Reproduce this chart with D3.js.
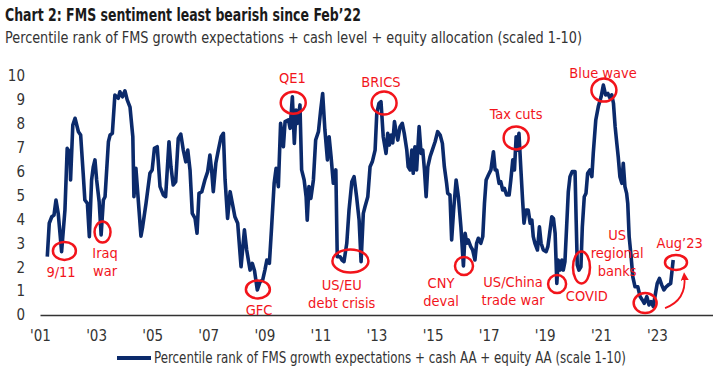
<!DOCTYPE html>
<html>
<head>
<meta charset="utf-8">
<script src="https://d3js.org/d3.v7.min.js"></script>
<style>
  body { margin: 0; background: #fff; }
  svg text { font-family: "Liberation Sans Narrow", "Arial Narrow", "DejaVu Sans Condensed", sans-serif; }
</style>
</head>
<body>
<svg width="713" height="380" id="mainSvg"></svg>
<script>
// ---- data ----
const dates = [
  2001.26, 2001.33, 2001.42, 2001.50, 2001.57, 2001.65, 2001.77, 2001.89, 2001.97, 2002.07,
  2002.09, 2002.17, 2002.25, 2002.37, 2002.45, 2002.54, 2002.60, 2002.69, 2002.76, 2002.84,
  2002.90, 2002.96, 2003.02, 2003.11, 2003.18, 2003.26, 2003.32, 2003.44, 2003.50, 2003.58,
  2003.67, 2003.79, 2003.85, 2003.94, 2004.03, 2004.11, 2004.21, 2004.31, 2004.35, 2004.42,
  2004.60, 2004.66, 2004.78, 2004.92, 2005.00, 2005.08, 2005.18, 2005.28, 2005.40, 2005.48,
  2005.60, 2005.67, 2005.75, 2005.84, 2005.93, 2006.02, 2006.11, 2006.20, 2006.27, 2006.35,
  2006.43, 2006.53, 2006.60, 2006.67, 2006.77, 2006.88, 2006.98, 2007.06, 2007.12, 2007.18,
  2007.27, 2007.36, 2007.46, 2007.54, 2007.60, 2007.69, 2007.78, 2007.86, 2007.95, 2008.05,
  2008.17, 2008.29, 2008.37, 2008.49, 2008.57, 2008.65, 2008.75, 2008.85, 2008.94, 2009.02,
  2009.09, 2009.18, 2009.26, 2009.35, 2009.42, 2009.50, 2009.58, 2009.68, 2009.74, 2009.86,
  2009.92, 2010.00, 2010.07, 2010.13, 2010.19, 2010.27, 2010.33, 2010.42, 2010.49, 2010.53,
  2010.59, 2010.66, 2010.75, 2010.83, 2010.93, 2011.01, 2011.08, 2011.16, 2011.25, 2011.31,
  2011.38, 2011.46, 2011.55, 2011.60, 2011.70, 2011.77, 2011.84, 2011.94, 2012.02, 2012.12,
  2012.20, 2012.29, 2012.38, 2012.45, 2012.53, 2012.59, 2012.69, 2012.77, 2012.85, 2012.95,
  2013.01, 2013.09, 2013.16, 2013.24, 2013.34, 2013.40, 2013.46, 2013.52, 2013.58, 2013.64,
  2013.70, 2013.76, 2013.84, 2013.92, 2013.99, 2014.08, 2014.13, 2014.20, 2014.26, 2014.31,
  2014.37, 2014.43, 2014.52, 2014.59, 2014.65, 2014.71, 2014.77, 2014.83, 2014.91, 2014.99,
  2015.09, 2015.18, 2015.27, 2015.35, 2015.42, 2015.50, 2015.54, 2015.62, 2015.68, 2015.75,
  2015.84, 2015.92, 2016.01, 2016.10, 2016.16, 2016.22, 2016.27, 2016.36, 2016.43, 2016.51,
  2016.57, 2016.63, 2016.72, 2016.79, 2016.85, 2016.91, 2016.99, 2017.08, 2017.17, 2017.23,
  2017.29, 2017.37, 2017.43, 2017.50, 2017.56, 2017.64, 2017.73, 2017.79, 2017.86, 2017.92,
  2017.98, 2018.02, 2018.08, 2018.15, 2018.21, 2018.26, 2018.33, 2018.41, 2018.48, 2018.54,
  2018.59, 2018.65, 2018.74, 2018.81, 2018.87, 2018.95, 2019.05, 2019.11, 2019.16, 2019.25,
  2019.31, 2019.37, 2019.43, 2019.48, 2019.55, 2019.61, 2019.66, 2019.72, 2019.78, 2019.84,
  2019.90, 2019.98, 2020.08, 2020.12, 2020.16, 2020.22, 2020.29, 2020.34, 2020.41, 2020.47,
  2020.53, 2020.61, 2020.68, 2020.73, 2020.82, 2020.91, 2021.01, 2021.09, 2021.17, 2021.25,
  2021.33, 2021.39, 2021.45, 2021.51, 2021.57, 2021.62, 2021.68, 2021.75, 2021.80, 2021.86,
  2021.92, 2021.96, 2022.01, 2022.08, 2022.14, 2022.22, 2022.32, 2022.40, 2022.48, 2022.55,
  2022.64, 2022.72, 2022.79, 2022.87, 2022.93, 2023.01, 2023.09, 2023.17, 2023.25, 2023.33,
  2023.41, 2023.49, 2023.58
];
const values = [
  2.44, 3.84, 4.11, 4.18, 4.81, 4.25, 2.65, 4.40, 6.97, 6.80,
  5.65, 7.95, 8.23, 7.67, 7.53, 5.93, 4.81, 4.67, 3.28, 5.65,
  6.20, 6.49, 5.65, 4.74, 3.35, 4.81, 4.95, 7.25, 7.53, 7.60,
  9.20, 9.07, 9.34, 9.13, 9.38, 9.00, 8.70, 7.46, 4.95, 6.14,
  3.30, 3.69, 4.67, 5.93, 6.07, 6.97, 7.04, 5.37, 5.02, 4.95,
  7.25, 6.20, 5.44, 5.58, 7.39, 7.57, 6.90, 6.41, 6.90, 6.07,
  4.25, 4.04, 3.42, 5.09, 5.16, 5.65, 6.00, 6.69, 6.07, 5.16,
  6.35, 6.90, 7.46, 7.60, 5.65, 4.04, 5.16, 4.67, 4.11, 3.84,
  2.02, 3.56, 2.72, 1.88, 2.16, 1.85, 1.05, 1.39, 1.46, 1.88,
  2.30, 2.16, 3.69, 5.51, 6.14, 5.37, 8.02, 7.04, 8.09, 8.16,
  7.81, 9.13, 7.18, 8.58, 8.02, 8.79, 6.07, 5.65, 4.95, 3.97,
  5.37, 4.88, 5.65, 7.32, 7.67, 8.58, 9.27, 7.74, 6.49, 7.46,
  6.62, 5.51, 6.07, 2.44, 2.44, 2.30, 2.23, 3.00, 4.39, 5.58,
  5.79, 4.95, 3.97, 2.23, 4.25, 4.53, 4.95, 6.20, 6.41, 6.90,
  8.44, 8.86, 8.93, 7.46, 6.76, 7.60, 7.11, 7.53, 7.20, 8.09,
  7.67, 7.32, 7.88, 8.02, 7.60, 6.90, 6.20, 6.07, 6.90, 5.93,
  7.04, 6.07, 7.88, 6.76, 6.90, 6.07, 4.95, 6.20, 6.62, 6.90,
  7.25, 7.67, 7.53, 7.18, 6.20, 5.51, 5.09, 5.02, 3.14, 4.39,
  5.65, 4.95, 3.69, 2.05, 3.42, 3.00, 3.14, 2.86, 2.72, 2.30,
  3.00, 3.21, 3.00, 3.28, 4.67, 5.65, 5.86, 6.07, 6.83, 6.07,
  6.07, 5.51, 5.58, 5.23, 5.30, 5.02, 5.02, 5.65, 6.49, 6.07,
  7.46, 6.90, 7.60, 6.07, 4.81, 3.84, 4.39, 4.39, 3.84, 3.97,
  3.28, 3.00, 2.72, 3.69, 3.00, 2.72, 2.65, 2.86, 3.28, 4.11,
  4.04, 3.42, 1.32, 2.30, 1.88, 2.30, 1.88, 2.23, 3.69, 5.16,
  5.79, 6.00, 6.00, 3.97, 2.09, 1.88, 2.02, 3.69, 4.95, 5.09,
  5.93, 6.07, 5.79, 6.76, 8.16, 8.72, 9.13, 9.62, 9.21, 9.27,
  9.07, 9.21, 8.86, 7.88, 7.18, 6.62, 5.79, 5.51, 6.35, 5.37,
  5.09, 4.67, 3.28, 2.44, 1.60, 1.18, 1.18, 0.77, 0.63, 0.49,
  0.77, 0.42, 0.56, 0.35, 0.77, 1.32, 1.53, 1.26, 1.05, 1.18,
  1.26, 1.32, 2.30
];
const xTicks = [2001, 2003, 2005, 2007, 2009, 2011, 2013, 2015, 2017, 2019, 2021, 2023];
const yTicks = [0, 1, 2, 3, 4, 5, 6, 7, 8, 9, 10];

const title = "Chart 2: FMS sentiment least bearish since Feb\u201922";
const subtitle = "Percentile rank of FMS growth expectations + cash level + equity allocation (scaled 1-10)";
const seriesName = "Percentile rank of FMS growth expectations + cash AA + equity AA (scale 1-10)";

// event rings (data coords) and their labels
const rings = [
  { year: 2001.87, value: 2.68, rx: 11.5, ry: 9 },
  { year: 2003.23, value: 3.47, rx: 8, ry: 10.5 },
  { year: 2008.77, value: 1.07, rx: 12, ry: 9 },
  { year: 2010.03, value: 8.88, rx: 12.5, ry: 11 },
  { year: 2012.07, value: 2.26, rx: 18, ry: 11.5 },
  { year: 2013.27, value: 8.87, rx: 12.5, ry: 11.5 },
  { year: 2016.12, value: 2.05, rx: 9, ry: 9 },
  { year: 2017.98, value: 7.41, rx: 12.5, ry: 11.5 },
  { year: 2019.44, value: 1.30, rx: 9, ry: 9 },
  { year: 2020.31, value: 1.99, rx: 8.5, ry: 16 },
  { year: 2021.11, value: 9.41, rx: 12.5, ry: 11.5 },
  { year: 2022.58, value: 0.50, rx: 11.5, ry: 10 },
  { year: 2023.68, value: 2.20, rx: 11, ry: 7.5 }
];
const labels = [
  { lines: ["9/11"], year: 2001.75, value: 1.59 },
  { lines: ["Iraq", "war"], year: 2003.32, value: 2.38 },
  { lines: ["GFC"], year: 2008.81, value: 0.0 },
  { lines: ["QE1"], year: 2010.0, value: 9.71 },
  { lines: ["US/EU", "debt crisis"], year: 2011.76, value: 1.05 },
  { lines: ["BRICS"], year: 2013.16, value: 9.54 },
  { lines: ["CNY", "deval"], year: 2015.3, value: 1.13 },
  { lines: ["Tax cuts"], year: 2017.98, value: 8.2 },
  { lines: ["US/China", "trade war"], year: 2017.87, value: 1.17 },
  { lines: ["COVID"], year: 2020.5, value: 0.59 },
  { lines: ["Blue wave"], year: 2021.08, value: 9.92 },
  { lines: ["US", "regional", "banks"], year: 2021.58, value: 3.14 },
  { lines: ["Aug\u201923"], year: 2023.81, value: 2.8 }
];
// curved arrow from the 2022 low to Aug'23
const arrowPts = [[2023.29, 0.29], [2024.06, 0.62], [2023.98, 1.62]];

// ---- layout ----
const svg = d3.select("#mainSvg");
const navy = "#0b2a6b";
const red = "#f2141b";

const x = d3.scaleLinear().domain([2001, 2025]).range([40, 713]);
const y = d3.scaleLinear().domain([0, 10]).range([315, 76]);

svg.append("text")
  .attr("x", 5).attr("y", 21)
  .attr("font-size", 18).attr("font-weight", "bold").attr("fill", "#1a1a1a")
  .attr("textLength", 356).attr("lengthAdjust", "spacingAndGlyphs")
  .text(title);

svg.append("text")
  .attr("x", 5).attr("y", 43)
  .attr("font-size", 16).attr("fill", "#333")
  .attr("textLength", 577).attr("lengthAdjust", "spacingAndGlyphs")
  .text(subtitle);

// axes
const yAxis = svg.append("g")
  .attr("transform", "translate(25,0)")
  .call(d3.axisLeft(y).tickValues(yTicks).tickSize(0).tickPadding(0));
yAxis.select(".domain").remove();
yAxis.selectAll("text").attr("font-size", 15).attr("fill", "#333")
  .style("font-family", null);

const xAxis = svg.append("g")
  .attr("transform", "translate(0,315)")
  .call(d3.axisBottom(x).tickValues(xTicks).tickSize(0).tickPadding(15)
    .tickFormat(d => "'" + String(d).slice(2)));
xAxis.select(".domain").attr("stroke", "#333").attr("stroke-width", 1.5);
xAxis.selectAll("text").attr("font-size", 15).attr("fill", "#333")
  .style("font-family", null);

// series line
const series = dates.map((d, i) => ({ year: d, value: values[i] }));
const line = d3.line().x(d => x(d.year)).y(d => y(d.value));
svg.append("path")
  .datum(series)
  .attr("d", line)
  .attr("fill", "none")
  .attr("stroke", navy)
  .attr("stroke-width", 3.6)
  .attr("stroke-linejoin", "round");

// annotations
const ann = svg.append("g");
ann.selectAll("ellipse")
  .data(rings).join("ellipse")
  .attr("cx", d => x(d.year)).attr("cy", d => y(d.value))
  .attr("rx", d => d.rx).attr("ry", d => d.ry)
  .attr("fill", "none").attr("stroke", red).attr("stroke-width", 2.5);

ann.selectAll("text")
  .data(labels).join("text")
  .attr("text-anchor", "middle")
  .attr("font-size", 14.5)
  .attr("fill", red)
  .each(function (d) {
    d3.select(this).selectAll("tspan")
      .data(d.lines).join("tspan")
      .attr("x", x(d.year))
      .attr("y", (s, i) => y(d.value) + i * 18)
      .text(s => s);
  });

svg.append("defs").append("marker")
  .attr("id", "arrowHead")
  .attr("viewBox", "0 0 10 10")
  .attr("refX", 5).attr("refY", 5)
  .attr("markerWidth", 8).attr("markerHeight", 8)
  .attr("markerUnits", "userSpaceOnUse")
  .attr("orient", "auto")
  .append("path")
  .attr("d", "M0,0 L10,5 L0,10 Z")
  .attr("fill", red);

const [p0, p1, p2] = arrowPts.map(p => [x(p[0]), y(p[1])]);
svg.append("path")
  .attr("d", `M${p0[0]},${p0[1]} Q${p1[0]},${p1[1]} ${p2[0]},${p2[1]}`)
  .attr("fill", "none").attr("stroke", red).attr("stroke-width", 1.8)
  .attr("marker-end", "url(#arrowHead)");

// legend
const legend = svg.append("g").attr("transform", "translate(117,358)");
legend.append("line")
  .attr("x1", 0).attr("x2", 34).attr("y1", 0).attr("y2", 0)
  .attr("stroke", navy).attr("stroke-width", 4);
legend.append("text")
  .attr("x", 37).attr("y", 5)
  .attr("font-size", 15.5).attr("fill", "#333")
  .attr("textLength", 472).attr("lengthAdjust", "spacingAndGlyphs")
  .text(seriesName);
</script>
</body>
</html>
